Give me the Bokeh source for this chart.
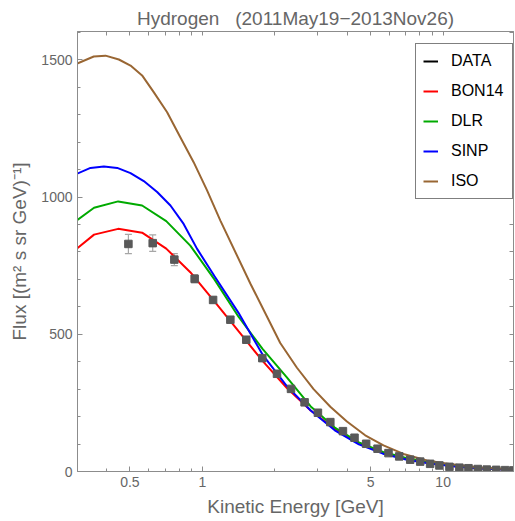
from bokeh.plotting import figure
from bokeh.models import (ColumnDataSource, Whisker, TeeHead, Legend, LegendItem,
                          FixedTicker, LogAxis, LinearAxis, Range1d)
from bokeh.embed import file_html
from bokeh.resources import INLINE

# ---- data ----
e_model = [0.282, 0.355, 0.447, 0.562, 0.708, 0.891, 1.122, 1.413, 1.778, 2.239,
           2.818, 3.548, 4.467, 5.623, 7.079, 8.913, 11.22, 14.13, 17.78, 22.39]
bon14 = [792, 863, 884, 870, 812, 726, 620, 511, 403, 305, 222, 155, 104, 69, 46, 30, 19, 12, 8, 5]
dlr = [896, 961, 984, 969, 912, 823, 700, 564, 447, 344, 237, 160, 106, 71, 48, 32, 21, 13, 9, 6]

e_sinp = [0.300, 0.343, 0.390, 0.443, 0.503, 0.571, 0.649, 0.737, 0.836, 0.951, 1.122, 1.413,
          1.778, 2.239, 2.818, 3.548, 4.467, 5.623, 7.079, 8.913, 11.22, 14.13, 17.78, 22.39]
sinp = [1084, 1106, 1111, 1106, 1087, 1058, 1018, 969, 902, 811, 712, 578,
        426, 312, 222, 150, 99, 65, 43, 28, 18, 11, 7, 5]

e_iso = [0.300, 0.354, 0.396, 0.450, 0.503, 0.562, 0.628, 0.714, 0.810, 0.920, 1.046, 1.188,
         1.582, 2.106, 2.471, 2.897, 3.40, 3.985, 4.746, 5.652, 6.843, 8.556, 10.62, 14.13,
         17.78, 22.39]
iso = [1485, 1512, 1515, 1501, 1479, 1443, 1382, 1309, 1218, 1127, 1024, 914,
       685, 468, 378, 300, 236, 182, 132, 95, 64, 40, 27, 15, 10, 6]

e_data = [0.493, 0.622, 0.765, 0.929, 1.108, 1.307, 1.522, 1.774, 2.042, 2.334, 2.658, 3.02,
          3.40, 3.836, 4.285, 4.79, 5.34, 5.93, 6.57, 7.30, 8.03, 8.83, 9.65, 10.62, 11.68,
          12.74, 13.93, 15.18, 16.6, 18.08, 19.57]
flux = [829, 832, 772, 702, 625, 553, 480, 413, 356, 301, 252, 214, 180, 147, 123, 101, 83,
        67, 55, 43, 36, 28, 22, 17, 14, 12, 9, 7, 6, 5, 4]
err = [35, 30, 22, 15, 12, 10, 9, 8, 7, 6, 5, 5, 4, 4, 3, 3, 3, 2, 2, 2, 2, 1, 1, 1, 1,
       1, 1, 1, 1, 1, 1]

x_ticks = [0.5, 1, 5, 10]
x_minor = [0.3, 0.4, 0.6, 0.7, 0.8, 0.9, 2, 3, 4, 6, 7, 8, 9, 20]
y_ticks = [0, 500, 1000, 1500]
y_minor = [100, 200, 300, 400, 600, 700, 800, 900, 1100, 1200, 1300, 1400, 1600]

TXT = "#666666"
AX = "#8c8c8c"
FONT = "Liberation Sans"
NB = "\u00a0"

p = figure(width=515, height=521, x_axis_type="log", output_backend="svg",
           toolbar_location=None, x_range=Range1d(0.303, 19.6), y_range=Range1d(0, 1603),
           min_border_left=77, min_border_right=2, min_border_top=31, min_border_bottom=50,
           title="Hydrogen" + NB * 3 + "(2011May19\u22122013Nov26)")
p.title.align = "center"
p.title.text_font = FONT
p.title.text_font_size = "19px"
p.title.text_font_style = "normal"
p.title.text_color = TXT
p.title.standoff = 6
p.xgrid.visible = False
p.ygrid.visible = False
p.outline_line_color = AX
p.background_fill_color = "white"
p.border_fill_color = "white"

def style_axis(ax):
    ax.axis_line_color = AX
    ax.major_tick_line_color = AX
    ax.minor_tick_line_color = AX
    ax.major_tick_in = 5
    ax.major_tick_out = 0
    ax.minor_tick_in = 3
    ax.minor_tick_out = 0
    ax.major_label_text_color = TXT
    ax.major_label_text_font = FONT
    ax.major_label_text_font_size = "14px"
    ax.axis_label_text_color = TXT
    ax.axis_label_text_font = FONT
    ax.axis_label_text_font_style = "normal"
    ax.axis_label_text_font_size = "19px"

p.xaxis.ticker = FixedTicker(ticks=x_ticks, minor_ticks=x_minor)
p.xaxis.major_label_overrides = {0.5: "0.5", 1: "1", 5: "5", 10: "10"}
p.xaxis.axis_label = "Kinetic Energy [GeV]"
p.xaxis.major_label_standoff = 5
p.xaxis.axis_label_standoff = 6
style_axis(p.xaxis[0])

p.yaxis.ticker = FixedTicker(ticks=y_ticks, minor_ticks=y_minor)
p.yaxis.axis_label = "Flux [(m\u00b2 s sr GeV)\u207b\u00b9]"
p.yaxis.major_label_standoff = 5
p.yaxis.axis_label_standoff = 8
style_axis(p.yaxis[0])

# top / right frame ticks (no labels: only minor ticks are used)
top = LogAxis(ticker=FixedTicker(ticks=[], minor_ticks=sorted(x_ticks + x_minor)))
style_axis(top)
top.minor_tick_in = 4
top.major_label_standoff = 0
p.add_layout(top, "above")
right = LinearAxis(ticker=FixedTicker(ticks=[], minor_ticks=sorted(y_ticks + y_minor)))
style_axis(right)
right.minor_tick_in = 4
right.major_label_standoff = 0
p.add_layout(right, "right")

# ---- model curves ----
r_bon = p.line(e_model, bon14, line_color="#ff0000", line_width=2)
r_dlr = p.line(e_model, dlr, line_color="#00aa00", line_width=2)
r_sinp = p.line(e_sinp, sinp, line_color="#0000ff", line_width=2)
r_iso = p.line(e_iso, iso, line_color="#996633", line_width=2)

# ---- data with error bars ----
src = ColumnDataSource(dict(x=e_data, y=flux,
                            lo=[f - e for f, e in zip(flux, err)],
                            hi=[f + e for f, e in zip(flux, err)]))
wh = Whisker(source=src, base="x", upper="hi", lower="lo", line_color="#a6a6a6", line_width=1.2,
             upper_head=TeeHead(size=7, line_color="#a6a6a6", line_width=1.2),
             lower_head=TeeHead(size=7, line_color="#a6a6a6", line_width=1.2))
p.add_layout(wh)
p.scatter("x", "y", source=src, marker="square", size=7.5, fill_color="#595959",
          line_color="#595959")

# legend-only renderer for DATA (nothing is drawn in the plot)
nan = float("nan")
r_data = p.line(x=[1, 2], y=[nan, nan], line_color="black", line_width=2)

legend = Legend(items=[LegendItem(label="DATA", renderers=[r_data]),
                       LegendItem(label="BON14", renderers=[r_bon]),
                       LegendItem(label="DLR", renderers=[r_dlr]),
                       LegendItem(label="SINP", renderers=[r_sinp]),
                       LegendItem(label="ISO", renderers=[r_iso])],
                location=(338, 272), orientation="vertical")
legend.border_line_color = "black"
legend.border_line_width = 1
legend.background_fill_color = "white"
legend.background_fill_alpha = 1
legend.label_text_font = FONT
legend.label_text_font_size = "16px"
legend.label_text_color = "black"
legend.label_height = 20
legend.glyph_height = 20
legend.glyph_width = 15
legend.label_width = 54
legend.label_standoff = 13
legend.spacing = 10
legend.padding = 7
legend.margin = 0
p.add_layout(legend, "center")

open("out.html", "w").write(file_html(p, INLINE))
